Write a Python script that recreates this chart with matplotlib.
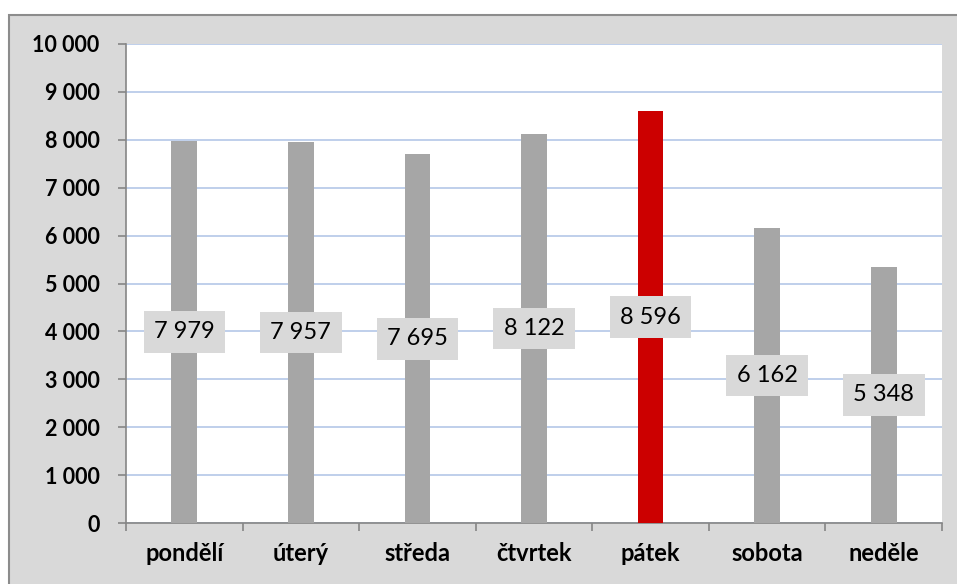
import matplotlib
matplotlib.use("Agg")
import matplotlib.pyplot as plt
from matplotlib.patches import Rectangle

# data
days = ["pondělí", "úterý", "středa", "čtvrtek", "pátek", "sobota", "neděle"]
values = [7979, 7957, 7695, 8122, 8596, 6162, 5348]
highlight = "pátek"

GRAY_BAR = "#A6A6A6"
RED_BAR = "#CC0000"
PANEL = "#D9D9D9"
AXIS = "#868686"
GRID = "#B4C7E7"

plt.rcParams["font.family"] = ["Lato", "DejaVu Sans"]


def fmt(v):
    return f"{v:,}".replace(",", " ")


fig = plt.figure(figsize=(9.57, 5.84), dpi=100, facecolor="white")
# grey chart frame, behind the axes
fig.patches.append(Rectangle((9 / 957, -0.02), 1.05, (584 - 15) / 584 + 0.02,
                             transform=fig.transFigure, facecolor=PANEL,
                             edgecolor="#8C8C8C", lw=1.5, zorder=-10))

ax = fig.add_axes([126 / 957, 1 - 523 / 584, (942 - 126) / 957, (523 - 44) / 584])
ax.set_zorder(1)
ax.set_facecolor("white")

x = range(len(days))
colors = [RED_BAR if d == highlight else GRAY_BAR for d in days]
ax.bar(x, values, width=0.22, color=colors, zorder=3)

for xi, v in zip(x, values):
    ax.text(xi, v / 2, fmt(v), ha="center", va="center", fontsize=17,
            color="black", zorder=4,
            bbox=dict(facecolor=PANEL, edgecolor="none", pad=7.5))

ax.set_xlim(-0.5, len(days) - 0.5)
ax.set_ylim(0, 10000)
yt = list(range(0, 10001, 1000))
ax.set_yticks(yt)
ax.set_yticklabels([fmt(v) for v in yt], fontsize=15.5, fontweight="bold")
ax.set_xticks(list(x))
ax.set_xticklabels(days, fontsize=17, fontweight="bold")
ax.set_xticks([i + 0.5 for i in range(-1, len(days))], minor=True)

ax.yaxis.grid(True, color=GRID, lw=1.2, zorder=0)
ax.set_axisbelow(True)

for s in ["top", "right"]:
    ax.spines[s].set_visible(False)
for s in ["left", "bottom"]:
    ax.spines[s].set_color(AXIS)
    ax.spines[s].set_linewidth(1.2)

ax.tick_params(axis="y", length=6, color=AXIS, width=1.2, pad=13)
ax.tick_params(axis="x", which="major", length=0, pad=14)
ax.tick_params(axis="x", which="minor", length=6, color=AXIS, width=1.2)

fig.savefig("out.png", dpi=100, facecolor="white")
